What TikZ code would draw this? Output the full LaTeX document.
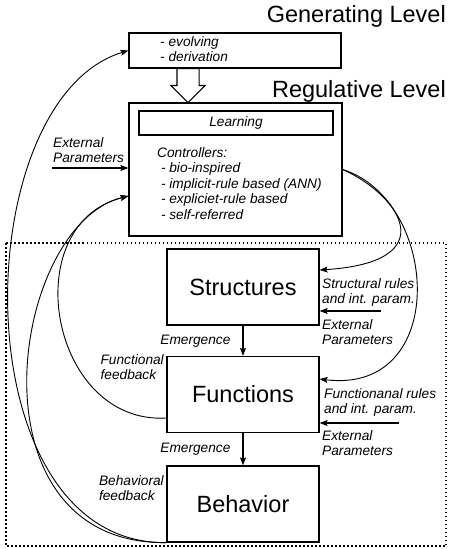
\documentclass[tikz,border=0pt]{standalone}
\usepackage{fontspec}
\setmainfont{Liberation Sans}
\usetikzlibrary{calc, arrows.meta, positioning, shapes.arrows}

\begin{document}
\begin{tikzpicture}[x=1pt, y=-1pt, >={Stealth[length=8pt, width=6pt, inset=1.5pt]}, font=\fontsize{13.7}{15.5}\selectfont\itshape]
	\tikzstyle{level} = [draw=none, inner sep=0, font=\fontsize{23.5}{26}\selectfont]
	\tikzstyle{box} = [draw=black, line width=1.2pt, rectangle, inner sep=0, minimum width=152pt, minimum height=76pt, font=\fontsize{23.5}{26}\selectfont]
	\tikzstyle{frame} = [draw=black, line width=1.2pt, rectangle, inner sep=0]
	\tikzstyle{invis} = [draw=none, inner sep=0, align=left]
	\tikzstyle{link} = [line width=0.9pt]
	\tikzstyle{hollow} = [single arrow, draw=black, line width=1.2pt, rotate=-90, inner sep=10.5pt, outer sep=0, minimum height=34pt, single arrow head extend=6pt, single arrow tip angle=90]
	\tikzstyle{dots} = [line width=1.2pt, dash pattern=on 1.5pt off 2.5pt]

	\useasboundingbox (0, 0) rectangle (449, 549);

	\node[level, anchor=base east]	at (446, 22)		(genTitle)	{Generating Level};
	\node[level, anchor=base east]	at (446, 97)		(regTitle)	{Regulative Level};
	\node[frame, minimum width=212pt, minimum height=35pt]	at (235, 50.5)	(gen)	{};
	\node[frame, minimum width=213pt, minimum height=133pt]	at (235.5, 169.5)	(reg)	{};
	\node[frame, minimum width=194pt, minimum height=24pt]	at (236, 123)	(learn)	{Learning};
	\node[box]			at (243, 287)		(struct)	{Structures};
	\node[box]			at (243, 394.5)		(func)		{Functions};
	\node[box]			at (243, 504)		(behav)		{Behavior};
	\node[hollow, anchor=tail]	at ([xshift=-47pt]gen.south)	(flow)	{};

	\node[invis, anchor=north west]	at (160, 36)	(genText)	{- evolving\\- derivation};
	\node[invis, anchor=north west]	at (157, 147)	(ctrl)		{Controllers:\\\ - bio-inspired\\\ - implicit-rule based (ANN)\\\ - expliciet-rule based\\\ - self-referred};
	\node[invis, anchor=north west]	at (53, 137)	(extReg)	{External\\Parameters};
	\node[invis, anchor=north west]	at (322, 278)	(structRules)	{Structural rules\\and int. param.};
	\node[invis, anchor=north west]	at (322, 319)	(extStruct)	{External\\Parameters};
	\node[invis, anchor=north west]	at (324, 388)	(funcRules)	{Functionanal rules\\and int. param.};
	\node[invis, anchor=north west]	at (322, 430)	(extFunc)	{External\\Parameters};
	\node[invis, anchor=north east]	at (164, 354)	(funcFb)	{Functional\\feedback};
	\node[invis, anchor=north east]	at (164, 475)	(behavFb)	{Behavioral\\feedback};

	\coordinate (extRegSrc) at (52, 168);
	\coordinate (extStructSrc) at (381, 311);
	\coordinate (extFuncSrc) at (399, 423);

	\draw[dots] (6, 243) rectangle (446, 546);

	\path[->, line width=1.1pt]
	(struct)	edge	node[invis, left=12pt]	{Emergence}	(func)
	(func)		edge	node[invis, left=12pt]	{Emergence}	(behav)
	(extRegSrc)	edge	(extRegSrc -| reg.west)
	(extStructSrc)	edge	(extStructSrc -| struct.east)
	(extFuncSrc)	edge	(extFuncSrc -| func.east);

	% feedback to the upper levels
	\draw[link, ->] (behav.south west) .. controls (-40, 545) and (-35, 100) .. (gen.west);
	\draw[link, ->] (behav.south west) .. controls (-35, 545) and (10, 225) .. ([yshift=-26.5pt]reg.west);
	\draw[link, ->] ([yshift=-23.5pt]func.west) .. controls (50, 425) and (15, 225) .. ([yshift=-26.5pt]reg.west);
	% rules down from the controllers
	\draw[link, ->] (reg.east) .. controls (400, 195) and (445, 262) .. ([yshift=17pt]struct.east);
	\draw[link, ->] (reg.east) .. controls (440, 200) and (450, 395) .. ([yshift=15.5pt]func.east);
\end{tikzpicture}
\end{document}
